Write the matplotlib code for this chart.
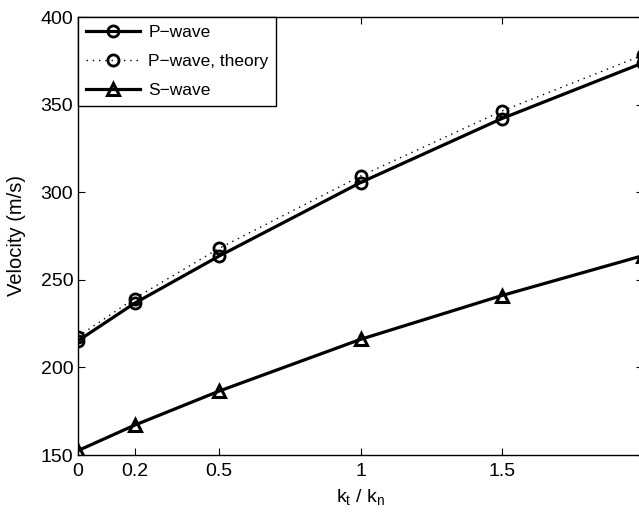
import numpy as np
import matplotlib
matplotlib.use('Agg')
import matplotlib.pyplot as plt

plt.rcParams['font.family'] = ['Liberation Sans', 'DejaVu Sans']
plt.rcParams['mathtext.fontset'] = 'custom'
plt.rcParams['mathtext.rm'] = 'Liberation Sans'
plt.rcParams['mathtext.it'] = 'Liberation Sans'

#===============================================================================
kt_kn   = [0.0, 0.2, 0.5, 1.0, 1.5, 2.0]
p_wave  = [215.2, 236.6, 263.6, 305.5, 342.0, 373.8]
p_theor = [217.6, 239.3, 268.0, 309.2, 346.3, 378.3]
s_wave  = [152.5, 167.0, 186.5, 216.0, 241.0, 263.8]
xticks  = [0, 0.2, 0.5, 1, 1.5, 2]
xlabels = ['0', '0.2', '0.5', '1', '1.5', '2']
yticks  = [150, 200, 250, 300, 350, 400]
#===============================================================================
fig = plt.figure(figsize=(6.39, 5.14), dpi=100, facecolor='w')
ax = fig.add_axes([78/639., 59/514., (643-78)/639., (455-17)/514.])

ax.plot(kt_kn, p_wave, '-', color='k', lw=2.3, marker='o', ms=8,
        mfc='none', mew=2.0, label='P\u2212wave', zorder=3)
ax.plot(kt_kn, p_theor, color='k', lw=1.0, ls=(0, (1, 3.5)), marker='o', ms=8,
        mfc='none', mew=2.0, label='P\u2212wave, theory', zorder=2)
ax.plot(kt_kn, s_wave, '-', color='k', lw=2.3, marker='^', ms=9,
        mfc='none', mew=2.2, label='S\u2212wave', zorder=3)

ax.set_xlim(0, 2)
ax.set_ylim(150, 400)
ax.set_xticks(xticks)
ax.set_xticklabels(xlabels)
ax.set_yticks(yticks)
ax.tick_params(direction='in', top=True, right=True, length=5, width=0.8,
               labelsize=14)
ax.tick_params(axis='x', pad=6)
for s in ax.spines.values():
    s.set_linewidth(1.0)

ax.set_xlabel(r'k$_\mathregular{t}$ / k$_\mathregular{n}$', fontsize=14, labelpad=5)
ax.set_ylabel('Velocity (m/s)', fontsize=14.5, labelpad=10)

leg = ax.legend(loc='upper left', borderaxespad=0, fontsize=12.5, fancybox=False,
                framealpha=1, edgecolor='k', handlelength=3.1, handletextpad=0.5,
                labelspacing=0.8, borderpad=0.45)
leg.get_frame().set_linewidth(1.0)

plt.savefig('out.png', dpi=100)
